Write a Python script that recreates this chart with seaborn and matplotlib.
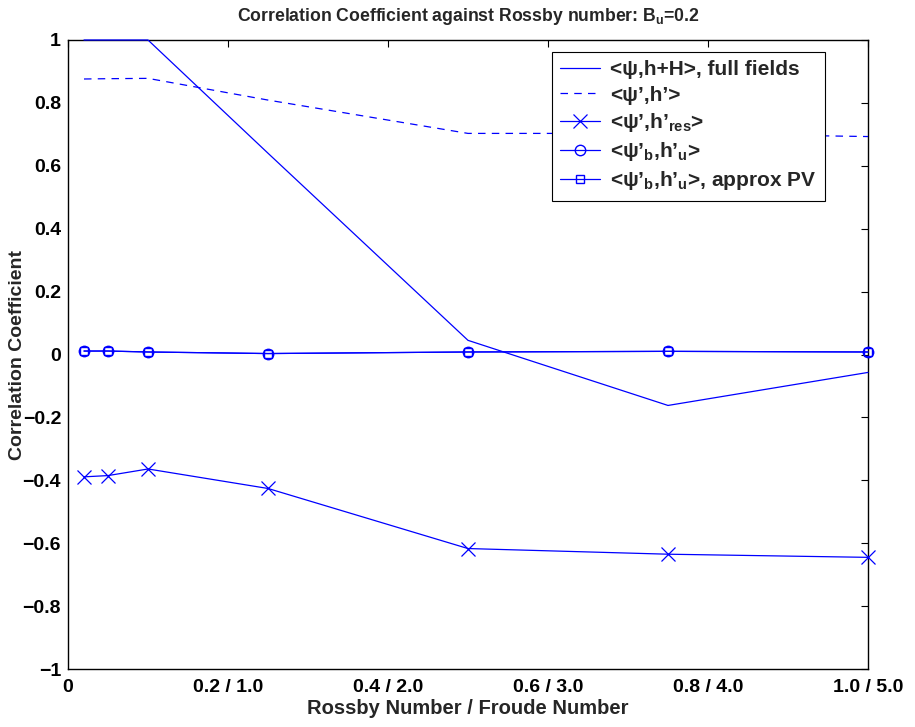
import matplotlib
matplotlib.use("Agg")
import matplotlib.pyplot as plt
import seaborn as sns
import pandas as pd

# Rossby number samples
rossby = [0.02, 0.05, 0.1, 0.25, 0.5, 0.75, 1.0]

full_fields = [1.0, 1.0, 1.0, 0.64, 0.045, -0.162, -0.057]
perturb = [0.876, 0.877, 0.878, 0.809, 0.703, 0.703, 0.693]
resid = [-0.389, -0.385, -0.364, -0.426, -0.617, -0.635, -0.645]
bal_unbal = [0.011, 0.011, 0.008, 0.003, 0.008, 0.010, 0.008]
bal_unbal_pv = [0.011, 0.011, 0.008, 0.003, 0.008, 0.010, 0.008]

xticks = [0, 0.2, 0.4, 0.6, 0.8, 1.0]
xticklabels = ["0", "0.2 / 1.0", "0.4 / 2.0", "0.6 / 3.0", "0.8 / 4.0", "1.0 / 5.0"]
yticks = [-1, -0.8, -0.6, -0.4, -0.2, 0, 0.2, 0.4, 0.6, 0.8, 1]
yticklabels = ["\u22121", "\u22120.8", "\u22120.6", "\u22120.4", "\u22120.2", "0",
               "0.2", "0.4", "0.6", "0.8", "1"]

df = pd.DataFrame({"x": rossby, "full": full_fields, "pert": perturb,
                   "res": resid, "bu": bal_unbal, "bupv": bal_unbal_pv})

sns.set_style("white")
plt.rcParams["font.family"] = ["Liberation Sans", "DejaVu Sans"]
plt.rcParams["font.weight"] = "bold"
plt.rcParams["mathtext.fontset"] = "custom"
plt.rcParams["mathtext.rm"] = "Liberation Sans:bold"
plt.rcParams["mathtext.it"] = "Liberation Sans:bold"
plt.rcParams["mathtext.bf"] = "Liberation Sans:bold"
plt.rcParams["mathtext.default"] = "rm"

fig = plt.figure(figsize=(9.15, 7.27), dpi=100)
ax = fig.add_axes([68 / 915, 1 - 669 / 727, 800 / 915, 629 / 727])

blue = (0, 0, 1)
lw = 0.9
common = dict(ax=ax, color=blue, lw=lw, clip_on=False, zorder=3)
sns.lineplot(data=df, x="x", y="full", label="<\u03c8,h+H>, full fields", **common)
sns.lineplot(data=df, x="x", y="pert", linestyle=(0, (6, 5)),
             label="<\u03c8\u2019,h\u2019>", **common)
sns.lineplot(data=df, x="x", y="res", marker="x", markersize=9.5,
             markeredgewidth=0.9, markeredgecolor=blue,
             label="<\u03c8\u2019,h\u2019$_{res}$>", **common)
sns.lineplot(data=df, x="x", y="bu", marker="o", markersize=7.5,
             markerfacecolor="none", markeredgecolor=blue, markeredgewidth=1.0,
             label="<\u03c8\u2019$_b$,h\u2019$_u$>", **common)
sns.lineplot(data=df, x="x", y="bupv", marker="s", markersize=6,
             markerfacecolor="none", markeredgecolor=blue, markeredgewidth=1.0,
             label="<\u03c8\u2019$_b$,h\u2019$_u$>, approx PV", **common)

ax.set_xlim(0, 1.0)
ax.set_ylim(-1, 1)
ax.set_xticks(xticks)
ax.set_xticklabels(xticklabels, fontsize=14, fontweight="bold")
ax.set_yticks(yticks)
ax.set_yticklabels(yticklabels, fontsize=14, fontweight="bold")
ax.tick_params(direction="in", length=5, width=0.8, top=True, right=True,
               colors="black")
ax.tick_params(axis="x", pad=7)
ax.tick_params(axis="y", pad=5)
for s in ax.spines.values():
    s.set_visible(True)
    s.set_color("black")
    s.set_linewidth(1.0)

ax.set_xlabel("Rossby Number / Froude Number", fontsize=14.5, fontweight="bold",
              labelpad=2)
ax.set_ylabel("Correlation Coefficient", fontsize=14, fontweight="bold")
ax.yaxis.set_label_coords((26 - 68) / 800, 0.5)
ax.set_title("Correlation Coefficient against Rossby number: B$_u$=0.2",
             fontsize=12.7, fontweight="bold", pad=14)

leg = ax.legend(loc="upper right", bbox_to_anchor=((825 - 68) / 800, (669 - 52) / 629),
                bbox_transform=ax.transAxes, borderaxespad=0, fontsize=15,
                frameon=True, fancybox=False, framealpha=1, edgecolor="black",
                handlelength=1.9, labelspacing=0.3, borderpad=0.4,
                handletextpad=0.5)
leg.get_frame().set_linewidth(0.8)

fig.savefig("out.png", dpi=100)
